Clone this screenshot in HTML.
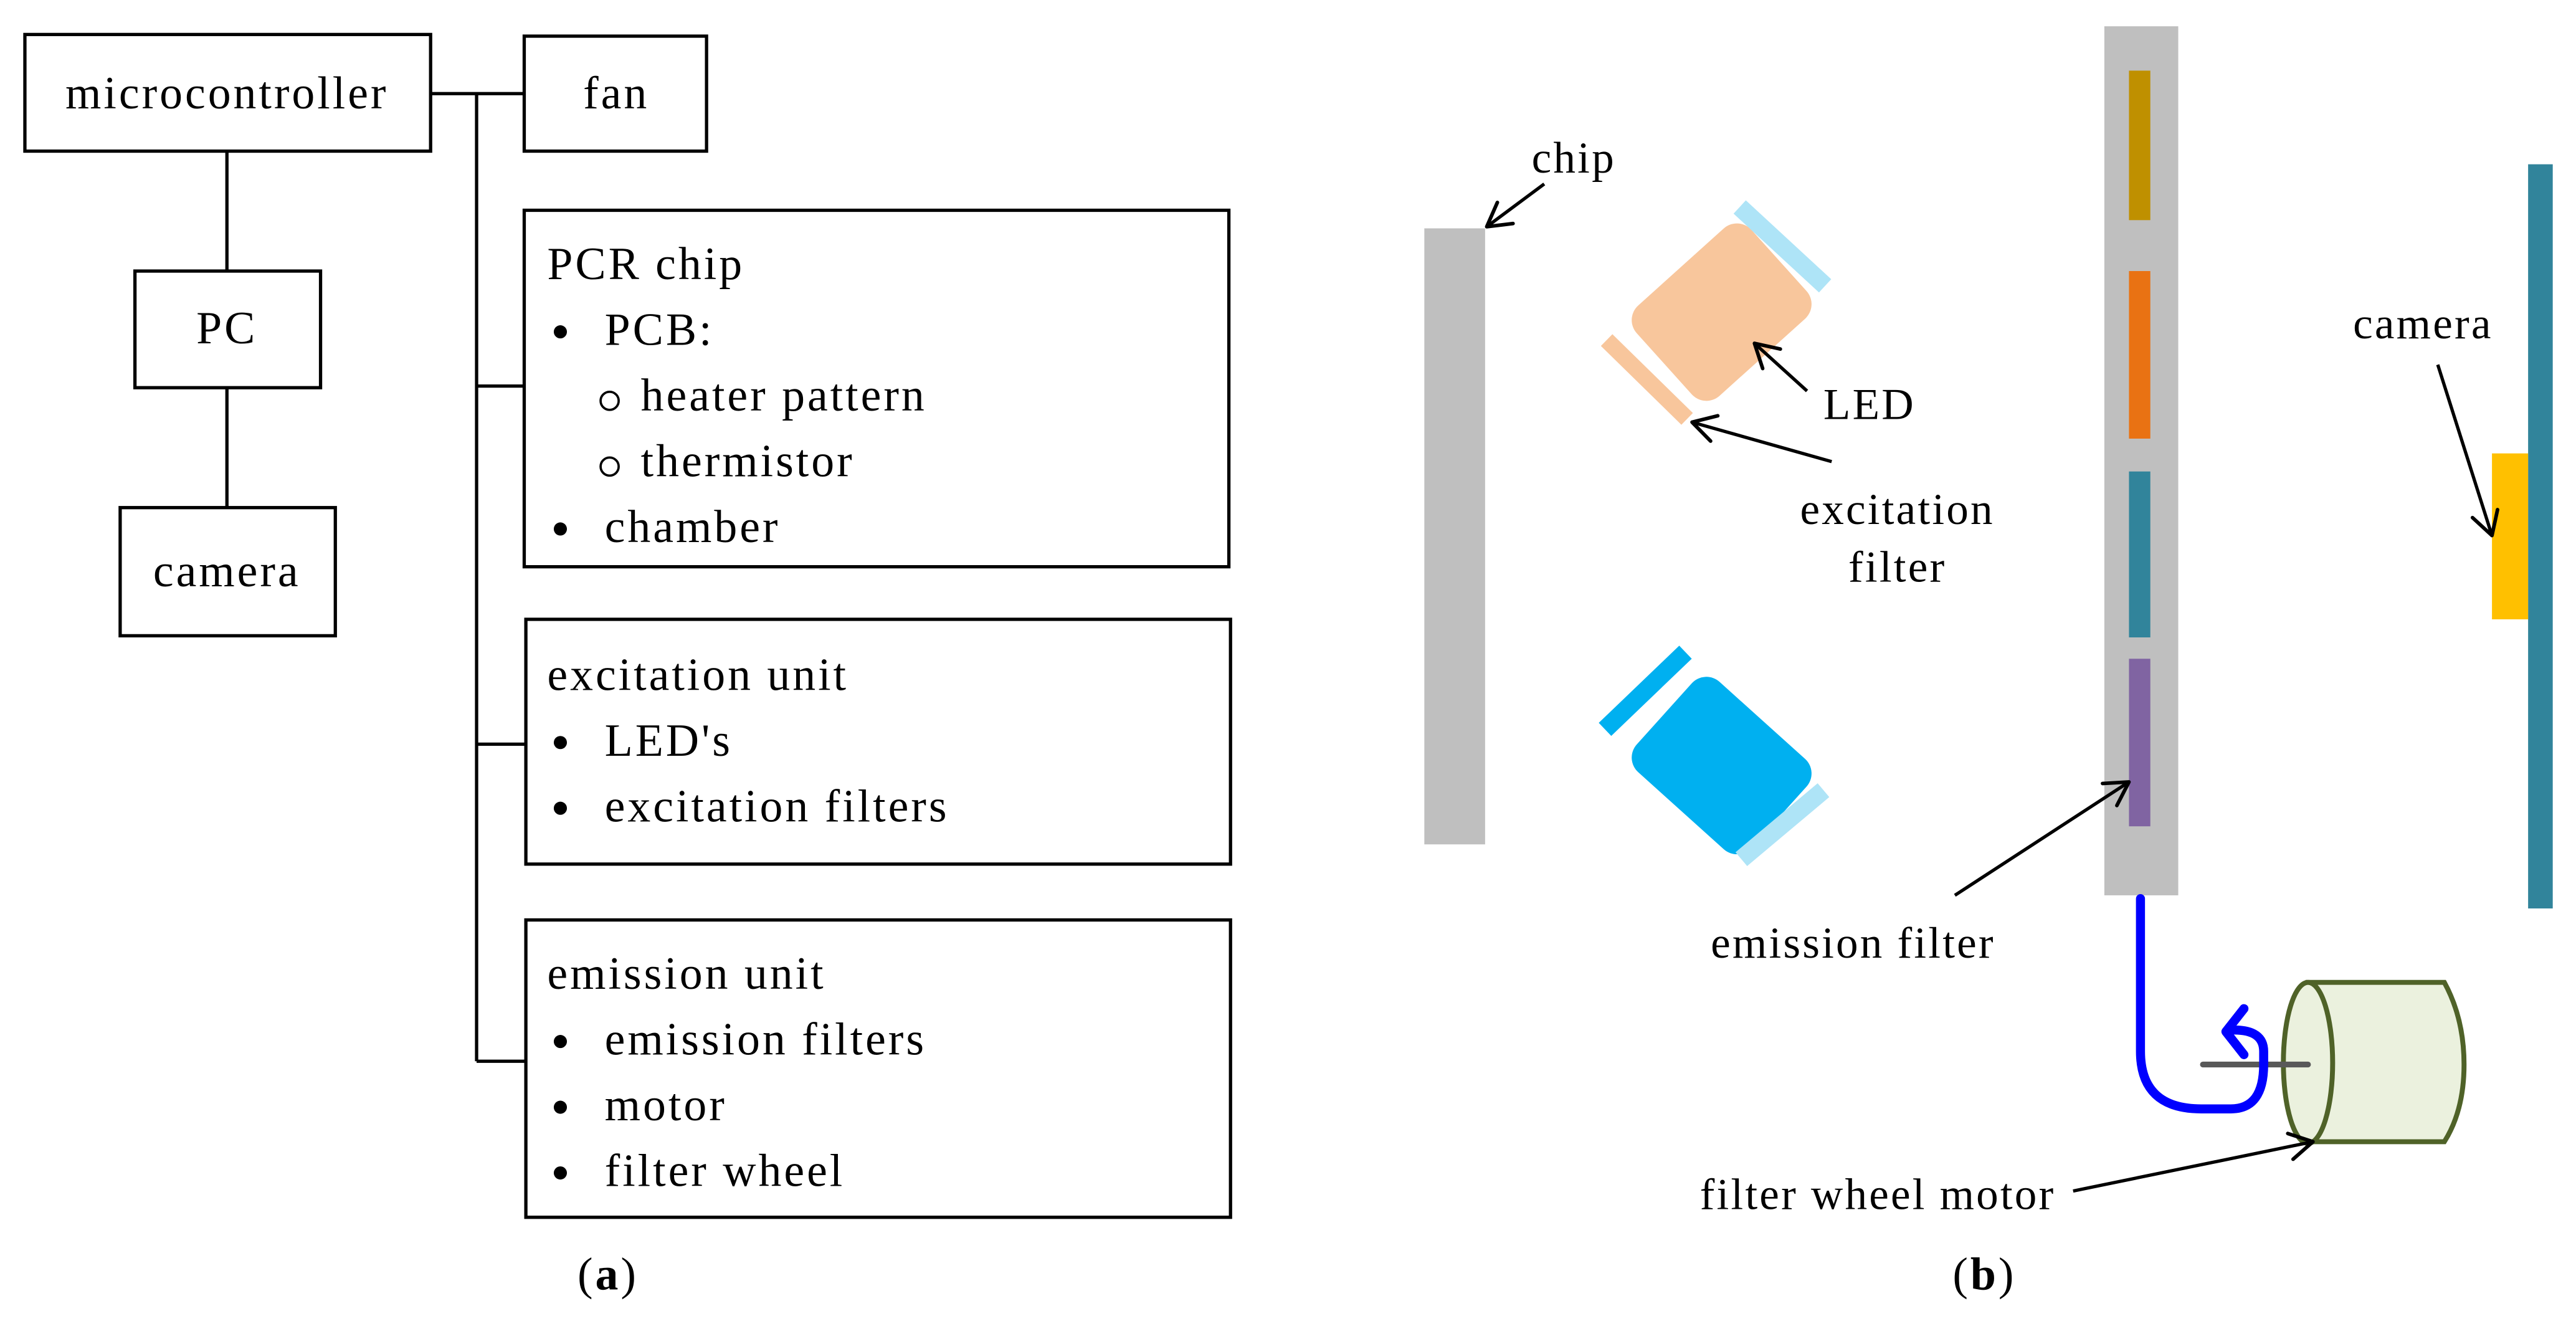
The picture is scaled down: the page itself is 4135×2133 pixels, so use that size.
<!DOCTYPE html>
<html><head><meta charset="utf-8"><style>
html,body{margin:0;padding:0;background:#fff;}
svg{display:block;}
text{font-family:"Liberation Serif",serif;fill:#000;}
</style></head><body>
<svg width="4135" height="2133" viewBox="0 0 1568 809" xmlns="http://www.w3.org/2000/svg">
<defs>
<marker id="ah" viewBox="0 0 20 20" refX="18" refY="10" markerWidth="20" markerHeight="20" markerUnits="userSpaceOnUse" orient="auto">
<path d="M4,2 L18,10 L4,18" fill="none" stroke="#000" stroke-width="2.2" stroke-linecap="round" stroke-linejoin="round"/>
</marker>
</defs>
<g fill="none" stroke="#000" stroke-width="2">
<rect x="15" y="21" width="247" height="71"/>
<rect x="319" y="22" width="111" height="70"/>
<rect x="82" y="165" width="113" height="71"/>
<rect x="73" y="309" width="131" height="78"/>
<rect x="319" y="128" width="429" height="217"/>
<rect x="320" y="377" width="429" height="149"/>
<rect x="320" y="560" width="429" height="181"/>
<path d="M262,57 H319 M290,57 V646 M290,235 H319 M290,453 H320 M290,646 H320 M138,92 V165 M138,236 V309"/>
</g>
<g font-size="28" style="letter-spacing:1.5px">
<text x="138" y="66" text-anchor="middle">microcontroller</text>
<text x="375" y="66" text-anchor="middle">fan</text>
<text x="138" y="209" text-anchor="middle">PC</text>
<text x="138" y="357" text-anchor="middle">camera</text>
<text x="333" y="170">PCR chip</text>
<text x="368" y="210">PCB:</text>
<text x="390" y="250">heater pattern</text>
<text x="390" y="290">thermistor</text>
<text x="368" y="330">chamber</text>
<text x="333" y="420">excitation unit</text>
<text x="368" y="460">LED's</text>
<text x="368" y="500">excitation filters</text>
<text x="333" y="602">emission unit</text>
<text x="368" y="642">emission filters</text>
<text x="368" y="682">motor</text>
<text x="368" y="722">filter wheel</text>
<text x="370" y="785" text-anchor="middle">(<tspan font-weight="bold">a</tspan>)</text>
<text x="1208" y="785" text-anchor="middle">(<tspan font-weight="bold">b</tspan>)</text>
</g>
<g fill="#000">
<circle cx="341" cy="202" r="4"/><circle cx="341" cy="322" r="4"/>
<circle cx="341" cy="452" r="4"/><circle cx="341" cy="492" r="4"/>
<circle cx="341" cy="634" r="4"/><circle cx="341" cy="674" r="4"/><circle cx="341" cy="714" r="4"/>
</g>
<g fill="none" stroke="#000" stroke-width="1.4">
<circle cx="371" cy="244" r="5.5"/><circle cx="371" cy="284" r="5.5"/>
</g>
<!-- (b) -->
<rect x="867" y="139" width="37" height="375" fill="#bfbfbf"/>
<g transform="translate(1048,190) rotate(-42)">
<rect x="-47" y="-37" width="94" height="74" rx="12" fill="#f8c69c"/>
</g>
<line x1="1059" y1="126" x2="1111" y2="174" stroke="#aee4f7" stroke-width="11"/>
<line x1="978" y1="207" x2="1027" y2="255" stroke="#f8c69c" stroke-width="10"/>
<g transform="translate(1048,466) rotate(42)">
<rect x="-47" y="-37" width="94" height="74" rx="12" fill="#00b0f0"/>
</g>
<line x1="977" y1="444" x2="1026" y2="397" stroke="#00b0f0" stroke-width="11"/>
<line x1="1060" y1="523" x2="1110" y2="481" stroke="#aee4f7" stroke-width="11"/>
<rect x="1281" y="16" width="45" height="529" fill="#bfbfbf"/>
<rect x="1296" y="43" width="13" height="91" fill="#bf9000"/>
<rect x="1296" y="165" width="13" height="102" fill="#e97213"/>
<rect x="1296" y="287" width="13" height="101" fill="#31849b"/>
<rect x="1296" y="401" width="13" height="102" fill="#8064a2"/>
<rect x="1539" y="100" width="15" height="453" fill="#31849b"/>
<rect x="1517" y="276" width="22" height="101" fill="#ffc000"/>
<!-- motor -->
<path d="M1405,598 H1488 Q1500,620 1500,648 Q1500,676 1488,695 H1405 Z" fill="#ebf1de" stroke="#4f6228" stroke-width="3"/>
<ellipse cx="1405" cy="647" rx="15" ry="49" fill="#ebf1de" stroke="#4f6228" stroke-width="3"/>
<line x1="1341" y1="648" x2="1405" y2="648" stroke="#595959" stroke-width="3.5" stroke-linecap="round"/>
<path d="M1303,547 V640 Q1303,675 1340,675 H1358 Q1378,675 1378,648 V640 Q1378,627 1360,627" fill="none" stroke="#0000ff" stroke-width="5.5" stroke-linecap="round"/>
<path d="M1366,614 L1355,628 L1366,642" fill="none" stroke="#0000ff" stroke-width="5.5" stroke-linecap="round" stroke-linejoin="round"/>
<g stroke="#000" stroke-width="2" marker-end="url(#ah)" fill="none">
<line x1="940" y1="112" x2="905" y2="138"/>
<line x1="1100" y1="238" x2="1068" y2="209"/>
<line x1="1115" y1="281" x2="1030" y2="257"/>
<line x1="1190" y1="545" x2="1296" y2="476"/>
<line x1="1484" y1="222" x2="1517" y2="326"/>
<line x1="1262" y1="725" x2="1408" y2="695"/>
</g>
<g font-size="27" style="letter-spacing:1.2px">
<text x="958" y="105" text-anchor="middle">chip</text>
<text x="1138" y="255" text-anchor="middle">LED</text>
<text x="1155" y="319" text-anchor="middle">excitation</text>
<text x="1155" y="354" text-anchor="middle">filter</text>
<text x="1128" y="583" text-anchor="middle">emission filter</text>
<text x="1475" y="206" text-anchor="middle">camera</text>
<text x="1143" y="736" text-anchor="middle">filter wheel motor</text>
</g>
</svg>
</body></html>
